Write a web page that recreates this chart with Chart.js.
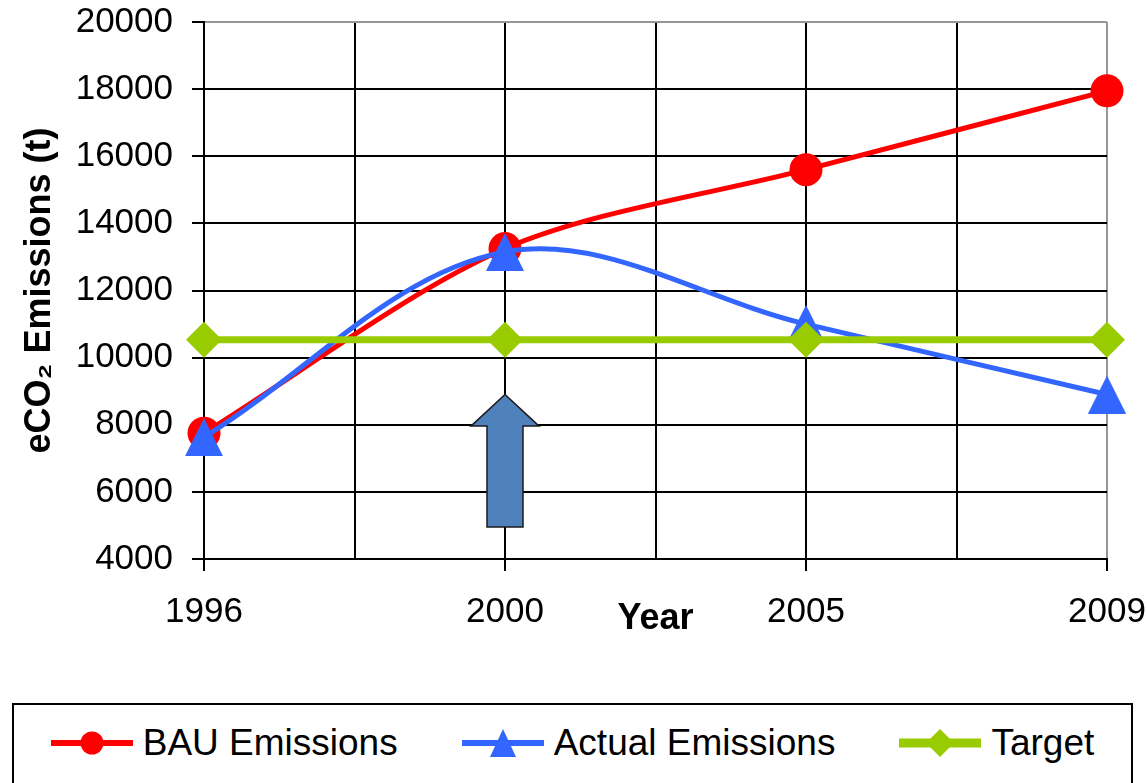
<!DOCTYPE html>
<html>
<head>
<meta charset="utf-8">
<title>eCO2 Emissions</title>
<script src="https://cdn.jsdelivr.net/npm/chart.js@4.4.1/dist/chart.umd.min.js"></script>
<style>
  body { margin: 0; background: #fff; font-family: 'Liberation Sans', Arial, sans-serif; }
  #wrap { position: absolute; left: 0; top: 0; width: 1147px; height: 700px; }
  #legend {
    position: absolute; left: 12px; top: 703px; width: 1121px; height: 110px;
    border: 2px solid #000; box-sizing: border-box;
    display: flex; justify-content: center; align-items: flex-start; gap: 64px;
    padding-top: 17px;
  }
  .item { display: flex; align-items: center; font-size: 37px; color: #000; white-space: nowrap; }
  .item svg { margin-right: 10px; }
</style>
</head>
<body>
<div id="wrap"><canvas id="chart"></canvas></div>
<div id="legend"></div>

<script>
// Datos
const years = ['1996', '2000', '2005', '2009'];
const bauEmissions = [7750, 13250, 15600, 17950];
const actualEmissions = [7630, 13150, 11000, 8900];
const targetEmissions = [10530, 10530, 10530, 10530];

// flecha azul en el año 2000
const arrowAt = 1;
const arrowFrom = 4950;
const arrowHeadBase = 7960;
const arrowTo = 8900;

const RED = '#FF0000';
const BLUE = '#3366FF';
const GREEN = '#99CC00';

// triangulo tipo Excel (isosceles)
function triangleImage(size) {
    const c = document.createElement('canvas');
    c.width = size; c.height = size;
    const g = c.getContext('2d');
    g.fillStyle = BLUE;
    g.beginPath();
    g.moveTo(size / 2, 0);
    g.lineTo(size, size);
    g.lineTo(0, size);
    g.closePath();
    g.fill();
    return c;
}

const toPoints = arr => arr.map((v, i) => ({ x: i, y: v }));

const arrowPlugin = {
    id: 'arrow',
    beforeDatasetsDraw(chart) {
        const { ctx, scales: { x, y } } = chart;
        const cx = x.getPixelForValue(arrowAt);
        const yb = y.getPixelForValue(arrowFrom);
        const yh = y.getPixelForValue(arrowHeadBase);
        const yt = y.getPixelForValue(arrowTo);
        ctx.save();
        ctx.beginPath();
        ctx.moveTo(cx - 18, yb);
        ctx.lineTo(cx - 18, yh);
        ctx.lineTo(cx - 34, yh);
        ctx.lineTo(cx, yt);
        ctx.lineTo(cx + 34, yh);
        ctx.lineTo(cx + 18, yh);
        ctx.lineTo(cx + 18, yb);
        ctx.closePath();
        ctx.fillStyle = '#4F81BD';
        ctx.fill();
        ctx.lineWidth = 1.5;
        ctx.strokeStyle = '#1a1a1a';
        ctx.stroke();
        ctx.restore();
    }
};

Chart.defaults.font.family = "'Liberation Sans', Arial, sans-serif";
Chart.defaults.color = '#000';

const ctx = document.getElementById('chart').getContext('2d');
new Chart(ctx, {
    type: 'line',
    data: {
        datasets: [
            {
                label: 'BAU Emissions',
                data: toPoints(bauEmissions),
                borderColor: RED,
                backgroundColor: RED,
                borderWidth: 5,
                pointStyle: 'circle',
                pointRadius: 16.5,
                pointBorderWidth: 0,
                tension: 0.3,
                clip: false,
                order: 2
            },
            {
                label: 'Actual Emissions',
                data: toPoints(actualEmissions),
                borderColor: BLUE,
                backgroundColor: BLUE,
                borderWidth: 5,
                pointStyle: triangleImage(38),
                tension: 0.35,
                clip: false,
                order: 1
            },
            {
                label: 'Target',
                data: toPoints(targetEmissions),
                borderColor: GREEN,
                backgroundColor: GREEN,
                borderWidth: 7,
                pointStyle: 'rectRot',
                pointRadius: 18,
                pointBorderWidth: 0,
                tension: 0,
                clip: false,
                order: 0
            }
        ]
    },
    options: {
        responsive: true,
        maintainAspectRatio: false,
        animation: false,
        layout: { padding: { top: 22, right: 40, left: 0, bottom: 0 } },
        plugins: {
            legend: { display: false },
            tooltip: { enabled: false }
        },
        scales: {
            x: {
                type: 'linear',
                min: 0,
                max: 3,
                afterFit: scale => {
                    scale.height = 141;
                    scale.paddingLeft = 0;
                    scale.paddingRight = 0;
                },
                ticks: {
                    stepSize: 0.5,
                    autoSkip: false,
                    maxRotation: 0,
                    padding: 20,
                    font: { size: 35 },
                    callback: v => Number.isInteger(v) ? years[v] : ''
                },
                grid: {
                    lineWidth: 2,
                    color: c => c.tick && c.tick.value === 3 ? '#969696' : '#000',
                    tickLength: 12,
                    tickWidth: 2,
                    tickColor: c => c.tick && Number.isInteger(c.tick.value) ? '#000' : 'rgba(0,0,0,0)'
                },
                border: { color: '#000', width: 2 },
                title: {
                    display: true,
                    text: 'Year',
                    font: { size: 36, weight: 'bold' },
                    padding: { top: 0, bottom: 59 }
                }
            },
            y: {
                min: 4000,
                max: 20000,
                afterFit: scale => {
                    scale.width = 204;
                    scale.paddingTop = 0;
                    scale.paddingBottom = 0;
                },
                ticks: {
                    stepSize: 2000,
                    padding: 19,
                    font: { size: 35 },
                    callback: v => String(v)
                },
                grid: {
                    lineWidth: 2,
                    color: c => c.tick && c.tick.value === 20000 ? '#969696' : '#000',
                    tickLength: 12,
                    tickWidth: 2,
                    tickColor: '#000'
                },
                border: { color: '#000', width: 2 },
                title: {
                    display: true,
                    text: 'eCO₂ Emissions (t)',
                    font: { size: 36, weight: 'bold' },
                    padding: { top: 18, bottom: 0 }
                }
            }
        }
    },
    plugins: [arrowPlugin]
});

// Leyenda con linea y marcador
const legendItems = [
    { label: 'BAU Emissions', color: RED, width: 6, marker: '<circle cx="41" cy="15" r="11.5" fill="' + RED + '"/>' },
    { label: 'Actual Emissions', color: BLUE, width: 6, marker: '<polygon points="41,1 54,29 28,29" fill="' + BLUE + '"/>' },
    { label: 'Target', color: GREEN, width: 9, marker: '<polygon points="41,1 55,15 41,29 27,15" fill="' + GREEN + '"/>' }
];
const legend = document.getElementById('legend');
legendItems.forEach(item => {
    const div = document.createElement('div');
    div.className = 'item';
    div.innerHTML = `<svg width="82" height="30" viewBox="0 0 82 30">
        <line x1="0" y1="15" x2="82" y2="15" stroke="${item.color}" stroke-width="${item.width}"/>
        ${item.marker}</svg><span>${item.label}</span>`;
    legend.appendChild(div);
});
</script>
</body>
</html>
